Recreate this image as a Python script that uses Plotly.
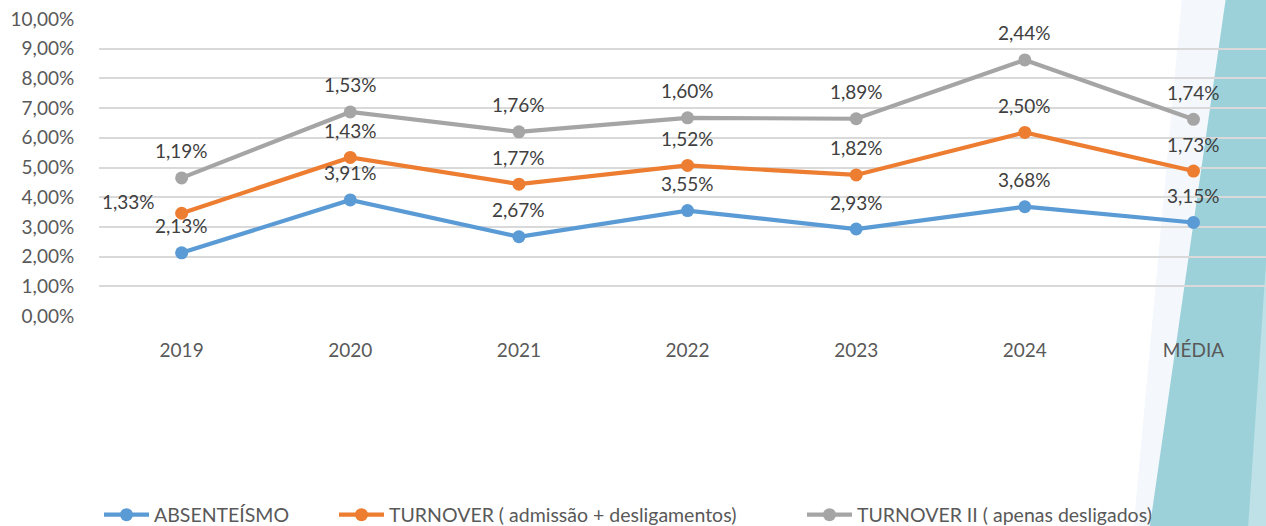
import plotly.graph_objects as go

categories = ["2019", "2020", "2021", "2022", "2023", "2024", "MÉDIA"]
absenteismo = [2.13, 3.91, 2.67, 3.55, 2.93, 3.68, 3.15]
turnover = [1.33, 1.43, 1.77, 1.52, 1.82, 2.50, 1.73]
turnover2 = [1.19, 1.53, 1.76, 1.60, 1.89, 2.44, 1.74]
series_names = ["ABSENTEÍSMO", "TURNOVER ( admissão + desligamentos)", "TURNOVER II ( apenas desligados)"]
colors = ["#5B9BD5", "#ED7D31", "#A5A5A5"]
y_ticks = list(range(0, 11))

# stacked line chart (Excel style)
stack1 = absenteismo
stack2 = [a + b for a, b in zip(stack1, turnover)]
stack3 = [a + b for a, b in zip(stack2, turnover2)]

FONT = "Lato"
W, H = 1266, 526
L, R = 99, 0
T_PX, B_PX = 19, 316  # pixel rows of 10% and 0%


def fmt(v):
    return f"{v:.2f}".replace(".", ",") + "%"


fig = go.Figure()
legend_ids = ["legend", "legend2", "legend3"]
for name, ys, col, lg in zip(series_names, [stack1, stack2, stack3], colors, legend_ids):
    fig.add_trace(go.Scatter(
        x=categories, y=ys, name=name, mode="lines+markers",
        line=dict(color=col, width=4.2),
        marker=dict(color=col, size=13),
        legend=lg, cliponaxis=False,
    ))

# data labels (each series' own value above its stacked point)
for k, (vals, ys) in enumerate(zip([absenteismo, turnover, turnover2], [stack1, stack2, stack3])):
    for i, (v, y) in enumerate(zip(vals, ys)):
        xs, yshift = 0, 27
        if k == 1 and i == 0:
            xs, yshift = -53, 12
        fig.add_annotation(x=i, y=y, xref="x", yref="y", text=fmt(v), showarrow=False,
                           xshift=xs, yshift=yshift,
                           font=dict(family=FONT, size=19, color="#404040"))


# decorative background shapes (pixel -> paper)
def px(xp):
    return (xp - L) / (W - L - R)


def py(yp):
    return (B_PX - yp) / (B_PX - T_PX)


def poly(points):
    return "M " + " L ".join(f"{px(a):.5f},{py(b):.5f}" for a, b in points) + " Z"


fig.add_shape(type="path", xref="paper", yref="paper", layer="below",
              path=poly([(1182, -2), (1270, -2), (1270, 530), (1133, 530)]),
              fillcolor="#F4F8FC", line=dict(width=0))
fig.add_shape(type="path", xref="paper", yref="paper", layer="below",
              path=poly([(1226, -2), (1270, -2), (1270, 530), (1149, 530)]),
              fillcolor="#9DD1DA", line=dict(width=0))
fig.add_shape(type="path", xref="paper", yref="paper", layer="below",
              path=poly([(1270, 205), (1270, 530), (1248, 530), (1248, 526), (1258, 380), (1266, 262)]),
              fillcolor="#BEE1E8", line=dict(width=0))

pad = 0.03
unit = (B_PX - T_PX) / 10
legend_common = dict(orientation="h", yref="container", xref="container",
                     yanchor="middle", y=1 - 515 / H, xanchor="left", itemwidth=45,
                     font=dict(family=FONT, size=19.5, color="#595959"),
                     bgcolor="rgba(0,0,0,0)", borderwidth=0)

fig.update_layout(
    width=W, height=H,
    margin=dict(l=L, r=R, t=T_PX - pad * unit, b=H - B_PX - pad * unit, autoexpand=False),
    paper_bgcolor="white", plot_bgcolor="rgba(0,0,0,0)",
    font=dict(family=FONT, size=19, color="#595959"),
    showlegend=True,
    legend=dict(**legend_common, x=99 / W),
    legend2=dict(**legend_common, x=334 / W),
    legend3=dict(**legend_common, x=802 / W),
    xaxis=dict(type="category", range=[-0.49, 6.43], showgrid=False, zeroline=False, showline=False,
               ticks="outside", ticklen=16, tickcolor="rgba(0,0,0,0)",
               tickfont=dict(family=FONT, size=19, color="#595959")),
    yaxis=dict(range=[-pad, 10 + pad], tickvals=y_ticks, ticktext=[fmt(v) for v in y_ticks],
               showgrid=True, gridcolor="#D9D9D9", gridwidth=2, zeroline=False, showline=False,
               ticks="outside", ticklen=20, tickcolor="rgba(0,0,0,0)",
               tickfont=dict(family=FONT, size=19, color="#595959")),
)

fig.write_html("out.html", config={"displayModeBar": False},
               post_script="document.body.style.margin='0';document.body.style.padding='0';")
